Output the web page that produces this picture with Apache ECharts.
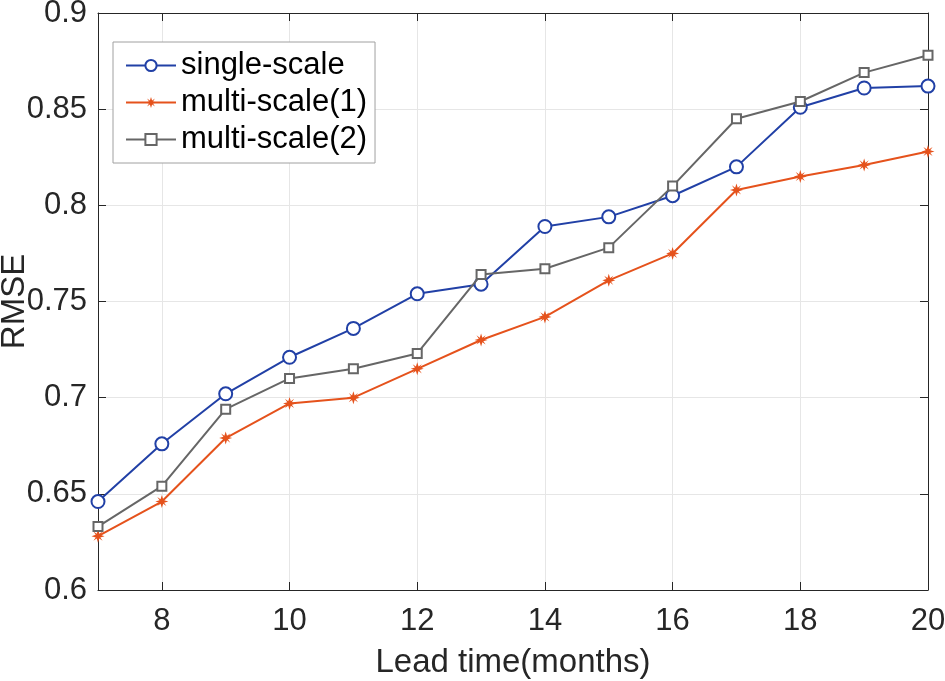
<!DOCTYPE html>
<html>
<head>
<meta charset="utf-8">
<script src="https://cdn.jsdelivr.net/npm/echarts@6/dist/echarts.min.js"></script>
<style>html,body{margin:0;padding:0;background:#fff}#c{width:945px;height:681px}</style>
</head>
<body>
<div id="c"></div>
<script>
const leadTimes = [7, 8, 9, 10, 11, 12, 13, 14, 15, 16, 17, 18, 19, 20];
const singleScale = [0.646, 0.676, 0.702, 0.721, 0.736, 0.754, 0.759, 0.789, 0.794, 0.805, 0.820, 0.851, 0.861, 0.862];
const multiScale1 = [0.628, 0.646, 0.679, 0.697, 0.700, 0.715, 0.730, 0.742, 0.761, 0.775, 0.808, 0.815, 0.821, 0.828];
const multiScale2 = [0.633, 0.654, 0.694, 0.710, 0.715, 0.723, 0.764, 0.767, 0.778, 0.810, 0.845, 0.854, 0.869, 0.878];
const xTickValues = [8, 10, 12, 14, 16, 18, 20];
const seriesNames = ['single-scale', 'multi-scale(1)', 'multi-scale(2)'];

const FONT = 'Liberation Sans, Arial, sans-serif';
const TXT = '#262626';
const asterisk = 'path://M10,0L12,6.5L17.07,2.93L13.5,8L20,10L13.5,12L17.07,17.07L12,13.5L10,20L8,13.5L2.93,17.07L6.5,12L0,10L6.5,8L2.93,2.93L8,6.5Z';

const pairs = arr => leadTimes.map((x, i) => [x, arr[i]]);

const chart = echarts.init(document.getElementById('c'), null, {renderer: 'canvas'});
const axisLineStyle = {color: '#262626', width: 1};
chart.setOption({
  animation: false,
  backgroundColor: '#fff',
  grid: {left: 98, right: 17, top: 13, bottom: 91, containLabel: false, outerBoundsMode: 'none'},
  legend: {
    orient: 'vertical', left: 113, top: 42,
    data: seriesNames,
    backgroundColor: '#fff',
    borderColor: '#a0a0a0', borderWidth: 1,
    padding: [8, 8, 8, 12],
    itemWidth: 50, itemHeight: 14, itemGap: 6,
    textStyle: {fontFamily: FONT, fontSize: 31, color: '#000'}
  },
  xAxis: [{
    type: 'value', min: 7, max: 20,
    name: 'Lead time(months)', nameLocation: 'middle', nameGap: 56,
    nameTextStyle: {fontFamily: FONT, fontSize: 33, color: TXT},
    axisLine: {show: true, onZero: false, lineStyle: axisLineStyle},
    axisTick: {show: true, inside: true, length: 8, customValues: xTickValues, lineStyle: {color: '#262626'}},
    axisLabel: {customValues: xTickValues, fontFamily: FONT, fontSize: 31, color: TXT, margin: 16},
    splitLine: {show: true, lineStyle: {color: '#e6e6e6', width: 1}}
  }, {
    type: 'value', min: 7, max: 20, position: 'top',
    axisLine: {show: true, onZero: false, lineStyle: axisLineStyle},
    axisTick: {show: true, inside: true, length: 8, customValues: xTickValues, lineStyle: {color: '#262626'}},
    axisLabel: {show: false},
    splitLine: {show: false}
  }],
  yAxis: [{
    type: 'value', min: 0.6, max: 0.9, interval: 0.05,
    name: 'RMSE', nameLocation: 'middle', nameGap: 67, nameMoveOverlap: false,
    nameTextStyle: {fontFamily: FONT, fontSize: 33, color: TXT},
    axisLine: {show: true, onZero: false, lineStyle: axisLineStyle},
    axisTick: {show: true, inside: true, length: 8, lineStyle: {color: '#262626'}},
    axisLabel: {fontFamily: FONT, fontSize: 31, color: TXT, margin: 11,
      formatter: v => String(parseFloat(v.toFixed(2)))},
    splitLine: {show: true, lineStyle: {color: '#e6e6e6', width: 1}}
  }, {
    type: 'value', min: 0.6, max: 0.9, interval: 0.05, position: 'right',
    axisLine: {show: true, onZero: false, lineStyle: axisLineStyle},
    axisTick: {show: true, inside: true, length: 8, lineStyle: {color: '#262626'}},
    axisLabel: {show: false},
    splitLine: {show: false}
  }],
  series: [{
    name: seriesNames[0], type: 'line', data: pairs(singleScale),
    symbol: 'emptyCircle', symbolSize: 13,
    lineStyle: {color: '#2140a6', width: 2},
    itemStyle: {color: '#2140a6', borderColor: '#2140a6', borderWidth: 2},
    z: 3
  }, {
    name: seriesNames[1], type: 'line', data: pairs(multiScale1),
    symbol: asterisk, symbolSize: 13,
    lineStyle: {color: '#e5521c', width: 2},
    itemStyle: {color: '#e5521c'},
    z: 2
  }, {
    name: seriesNames[2], type: 'line', data: pairs(multiScale2),
    symbol: 'emptyRect', symbolSize: 9,
    lineStyle: {color: '#666666', width: 2},
    itemStyle: {color: '#666666', borderColor: '#666666', borderWidth: 2},
    z: 4
  }]
});
</script>
</body>
</html>
